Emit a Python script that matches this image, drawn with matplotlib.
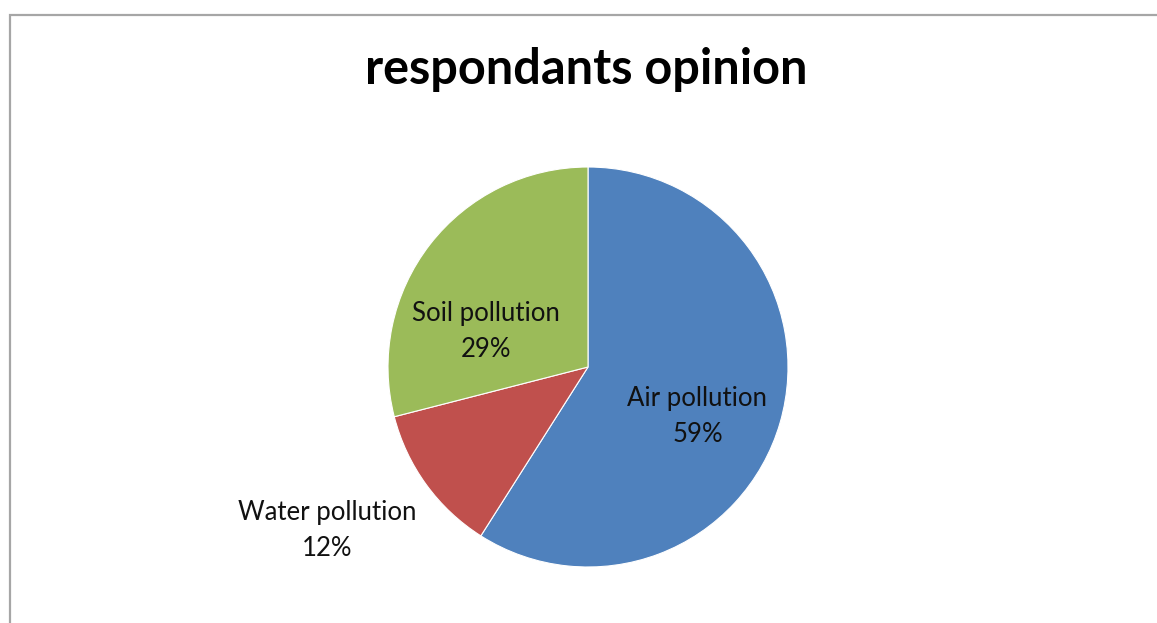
import matplotlib
matplotlib.use('Agg')
import matplotlib.pyplot as plt
import numpy as np
from matplotlib.patches import Rectangle

categories = ['Air pollution', 'Water pollution', 'Soil pollution']
shares = [59, 12, 29]
colors = ['#4F81BD', '#C0504D', '#9BBB59']
# label placement: (distance in radii, angle offset in degrees from wedge middle)
label_pos = [(0.60, -8), (1.54, -4.0), (0.54, 18.5)]

W, H = 1157, 623


def main():
    plt.rcParams['font.family'] = ['Lato', 'DejaVu Sans']
    fig = plt.figure(figsize=(W / 100, H / 100), dpi=100)
    fig.patch.set_facecolor('white')

    # outer chart frame (cut off on the right and bottom)
    fig.add_artist(Rectangle((9.5 / W, -0.1), 2, 1.1 - 14.5 / H, transform=fig.transFigure,
                             fill=False, edgecolor='#A6A6A6', linewidth=1.6))

    cx, cy, r = 588, 367, 200
    ax = fig.add_axes([(cx - r) / W, (H - cy - r) / H, 2 * r / W, 2 * r / H])
    wedges, _ = ax.pie(shares, colors=colors, startangle=90, counterclock=False,
                       wedgeprops=dict(edgecolor='white', linewidth=0.8))
    ax.set_xlim(-1, 1)
    ax.set_ylim(-1, 1)
    ax.axis('off')

    for w, name, val, (dist, off) in zip(wedges, categories, shares, label_pos):
        mid = np.radians((w.theta1 + w.theta2) / 2 + off)
        ax.text(dist * np.cos(mid), dist * np.sin(mid), '%s\n%d%%' % (name, val),
                ha='center', va='center', fontsize=18.5, color='#111111',
                linespacing=1.55, clip_on=False)

    fig.text(586 / W, 1 - 70 / H, 'respondants opinion', ha='center', va='center',
             fontsize=35, fontweight='bold', color='black')

    plt.savefig('out.png', dpi=100)


if __name__ == '__main__':
    main()
